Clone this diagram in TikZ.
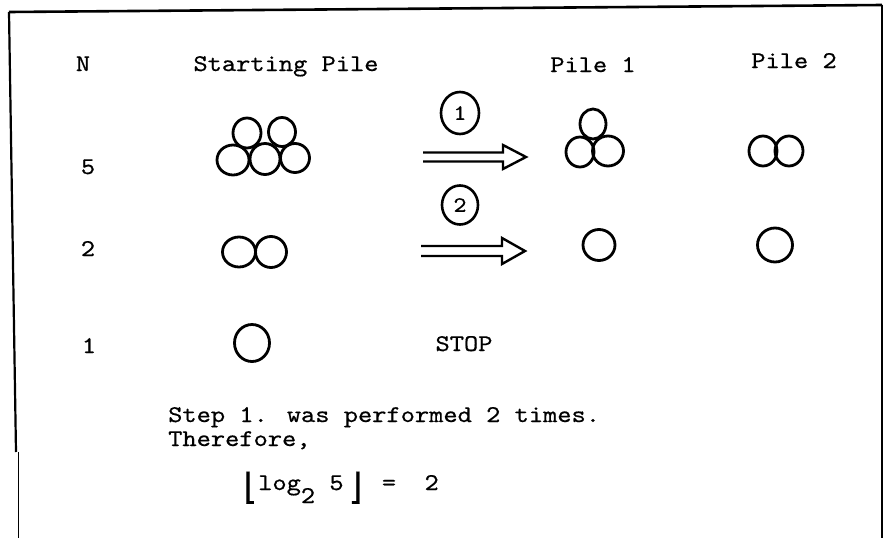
\documentclass[tikz,border=0pt]{standalone}
\usepackage{fontspec}
\newfontfamily\twfont[FakeStretch=1.13,FakeBold=0.6]{lmmono10-regular.otf}
\newfontfamily\brkfont[FakeBold=0.4]{DejaVu Sans Mono}
\usetikzlibrary{shapes.geometric}

\tikzset{
  tw/.style={font=\twfont\fontsize{24}{25}\selectfont, inner sep=0pt},
  ball/.style={line width=2.8pt},
  badge/.style={draw, ellipse, line width=2.6pt, inner sep=0pt,
    font=\twfont\fontsize{22}{22}\selectfont},
  fatarrow/.style={line width=2.4pt, line join=miter}
}

\begin{document}
\begin{tikzpicture}[x=1pt,y=-1pt]
\useasboundingbox (0,0) rectangle (887,538);

% frame
\draw[line width=2.6pt] (9,12) -- (882,5);
\draw[line width=2.2pt] (16,452) -- (9,12);
\draw[line width=1pt] (18,452) -- (18,538);
\draw[line width=1.5pt] (882,5) -- (882,538);

% headings
\node[tw, anchor=base] (hn) at (83,71) {N};
\node[tw, anchor=base] (hstart) at (286,71) {Starting Pile};
\node[tw, anchor=base] (hpa) at (593,72) {Pile 1};
\node[tw, anchor=base] (hpb) at (794,68) {Pile 2};

% N column
\node[tw, anchor=base] (n5) at (88,174) {5};
\node[tw, anchor=base] (n2) at (88,256) {2};
\node[tw, anchor=base] (n1) at (89,353) {1};

% starting piles
\draw[ball] (233,160) ellipse (16 and 15);
\draw[ball] (265,159) ellipse (15 and 15.5);
\draw[ball] (295,158) ellipse (14.5 and 14.5);
\draw[ball] (247,133) ellipse (14 and 15);
\draw[ball] (282,132) ellipse (13.5 and 14.5);

\draw[ball] (239,252) ellipse (16.5 and 15);
\draw[ball] (271,252) ellipse (15.5 and 15.5);

\draw[ball] (252,343) ellipse (17.5 and 18.5);

% pile 1 and pile 2
\draw[ball] (593,124) ellipse (13 and 15);
\draw[ball] (580,152) ellipse (14 and 15);
\draw[ball] (608,151) ellipse (15.5 and 15);
\draw[ball] (763,151) ellipse (14 and 15);
\draw[ball] (789,151) ellipse (14 and 15);

\draw[ball] (599,245) ellipse (16 and 15.5);
\draw[ball] (775,245) ellipse (17.5 and 17);

% steps
\node[badge, minimum width=38pt, minimum height=42pt] (s1) at (460,113) {1};
\node[badge, minimum width=36pt, minimum height=39pt] (s2) at (460,205) {2};

\node[coordinate] (t1) at (423,157) {};
\node[coordinate] (h1) at (526,157) {};
\draw[fatarrow] (t1) ++(0,-4.5) -- ++(80,0) -- ++(0,-7.5) -- (h1) -- ++(-23,12) -- ++(0,-7.5) -- ++(-80,0);

\node[coordinate] (t2) at (421,251) {};
\node[coordinate] (h2) at (525,251) {};
\draw[fatarrow] (t2) ++(0,-5) -- ++(81,0) -- ++(0,-8) -- (h2) -- ++(-23,13) -- ++(0,-8) -- ++(-81,0);

\node[tw, anchor=base] (stop) at (464,351) {STOP};

% conclusion
\node[tw, anchor=base west] (done) at (168,422) {Step 1. was performed 2 times.};
\node[tw, anchor=base west] (hence) at (168,446) {Therefore,};
\node[tw, anchor=base west] (flr) at (238,490)
  {\makebox[20pt][l]{\raisebox{-9pt}{\brkfont\fontsize{36}{36}\selectfont ⌊}}log\raisebox{-13pt}{2} 5\makebox[24pt][r]{\raisebox{-9pt}{\brkfont\fontsize{36}{36}\selectfont ⌋}}\ = \ 2};

\end{tikzpicture}
\end{document}
